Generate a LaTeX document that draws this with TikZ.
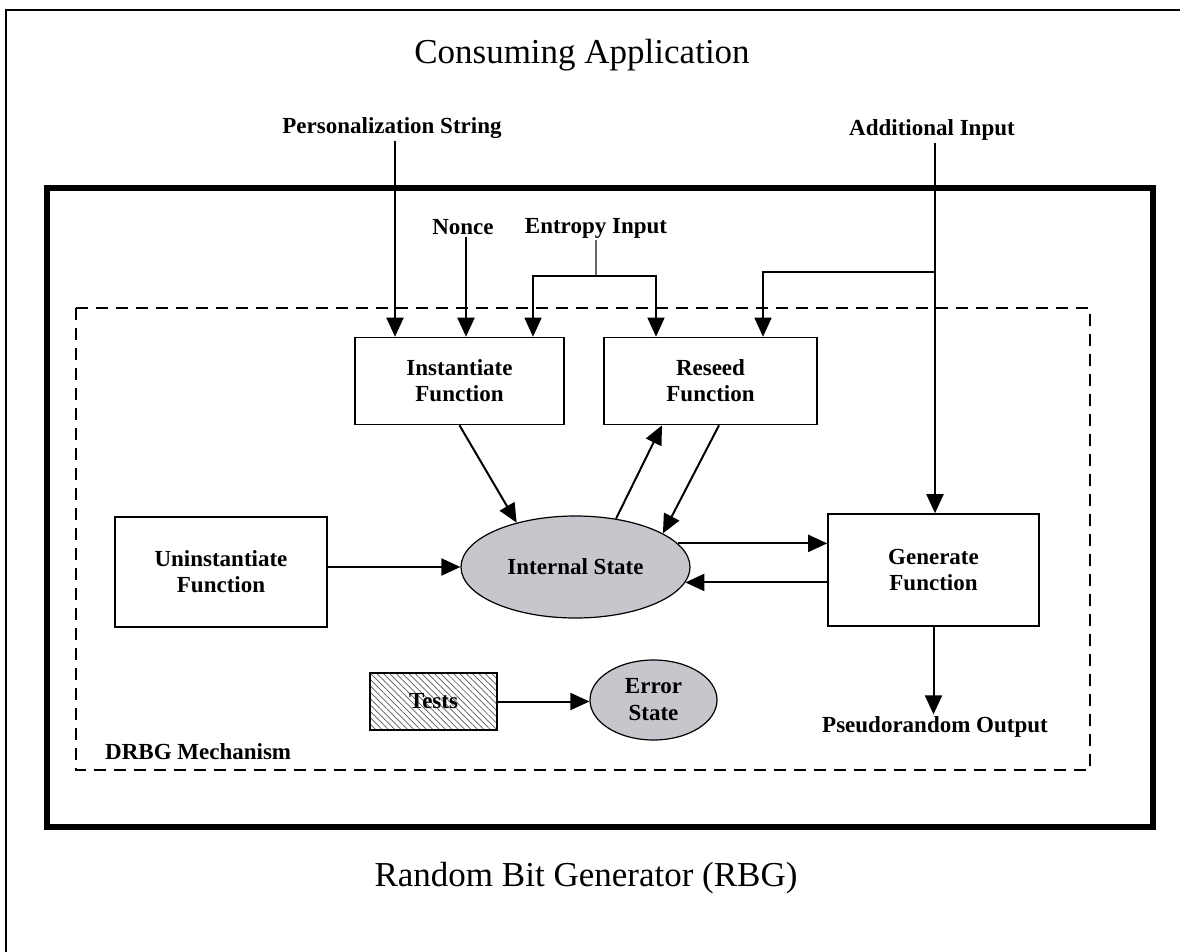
\documentclass[tikz,border=0pt]{standalone}
\usepackage{fontspec}
\setmainfont{Liberation Serif}
\usetikzlibrary{arrows.meta,shapes.geometric,patterns.meta,calc}
\definecolor{stategray}{HTML}{C8C6CC}
\begin{document}
\begin{tikzpicture}[x=1pt,y=-1pt,
  conn/.style={line width=2pt},
  arr/.style={line width=2pt,-{Triangle[length=19pt,width=17pt]}},
  fbox/.style={draw,line width=1.6pt,rectangle,inner sep=0pt,align=center,
     font=\bfseries\fontsize{23}{26}\selectfont},
  lbl/.style={inner sep=2pt,font=\bfseries\fontsize{23}{26}\selectfont,align=center},
  title/.style={inner sep=0pt,font=\fontsize{35}{40}\selectfont},
  state/.style={draw,ellipse,fill=stategray,line width=1.2pt,inner sep=0pt,align=center,
     font=\bfseries\fontsize{23}{27}\selectfont}]
\useasboundingbox (0,0) rectangle (1180,952);
\fill[white] (0,0) rectangle (1180,952);
% outer frame
\draw[line width=2pt] (6,952) -- (6,10.5) -- (1180,10.5);
% RBG box
\draw[line width=6pt] (47,188) rectangle (1153,827);
% DRBG dashed box
\draw[line width=1.5pt,dash pattern=on 12pt off 8pt] (76,308) rectangle (1090,770);

% titles
\node[title] (cons) at (582,55) {Consuming Application};
\node[title] (rbg) at (586,878) {Random Bit Generator (RBG)};
\node[lbl,anchor=west] (drbg) at (103,752) {DRBG Mechanism};

% labels
\node[lbl] (pers) at (392,128) {Personalization String};
\node[lbl] (addin) at (932,130) {Additional Input};
\node[lbl] (nonce) at (463,227) {Nonce};
\node[lbl] (ent) at (596,228) {Entropy Input};
\node[lbl] (pro) at (935,727) {Pseudorandom Output};

% boxes
\node[fbox,minimum width=209pt,minimum height=87pt] (inst) at (459.5,381) {Instantiate\\Function};
\node[fbox,minimum width=213pt,minimum height=87pt] (res) at (710.5,381) {Reseed\\Function};
\node[fbox,minimum width=212pt,minimum height=110pt] (uni) at (221,572) {Uninstantiate\\Function};
\node[fbox,minimum width=211pt,minimum height=112pt] (gen) at (933.5,570) {Generate\\Function};
\node[draw,line width=1.4pt,rectangle,minimum width=127pt,minimum height=57pt,
  pattern={Lines[angle=-45,distance=4.5pt,line width=0.7pt]},pattern color=black!65,
  font=\bfseries\fontsize{23}{26}\selectfont] (tests) at (433.5,701.5) {Tests};

% ellipses
\node[state,minimum width=229pt,minimum height=102pt] (is) at (575.5,567) {Internal State};
\node[state,minimum width=127pt,minimum height=80pt] (err) at (653.5,700) {Error\\State};

% coordinates
\coordinate (entj) at (596,276);
\coordinate (entL) at ($(inst.north)+(73.5,0)$);
\coordinate (entR) at ($(res.north)+(-54.5,0)$);
\coordinate (addj) at (935,272);
\coordinate (addR) at ($(res.north)+(52.5,0)$);

% top inputs
\draw[arr] (pers.south -| 395,0) -- (395,0 |- inst.north);
\draw[arr] (nonce.south -| 466,0) -- (466,0 |- inst.north);
\draw[line width=1.3pt,black!60] (ent.south) -- (entj);
\draw[arr,line width=1.6pt] (entj) -| (entL);
\draw[arr,line width=1.6pt] (entj) -| (entR);
\draw[arr] (addin.south -| addj) -- (addj |- gen.north);
\draw[arr,line width=1.6pt] (addj) -| (addR);

% internal connections
\draw[arr] (inst.south) -- (is.143);
\draw[arr] (is.50) -- ($(res.south)+(-48.5,0)$);
\draw[arr] ($(res.south)+(8.5,0)$) -- (is.21);
\draw[arr] (uni.east |- is.west) -- (is.west);
\draw[arr] (is.13.4) -- (is.13.4 -| gen.west);
\draw[arr] (gen.west |- is.-8.4) -- (is.-8.4);
\draw[arr] (gen.south) -- (gen.south |- pro.north);
\draw[arr] (tests.east) -- (tests.east -| err.west);
\end{tikzpicture}
\end{document}
